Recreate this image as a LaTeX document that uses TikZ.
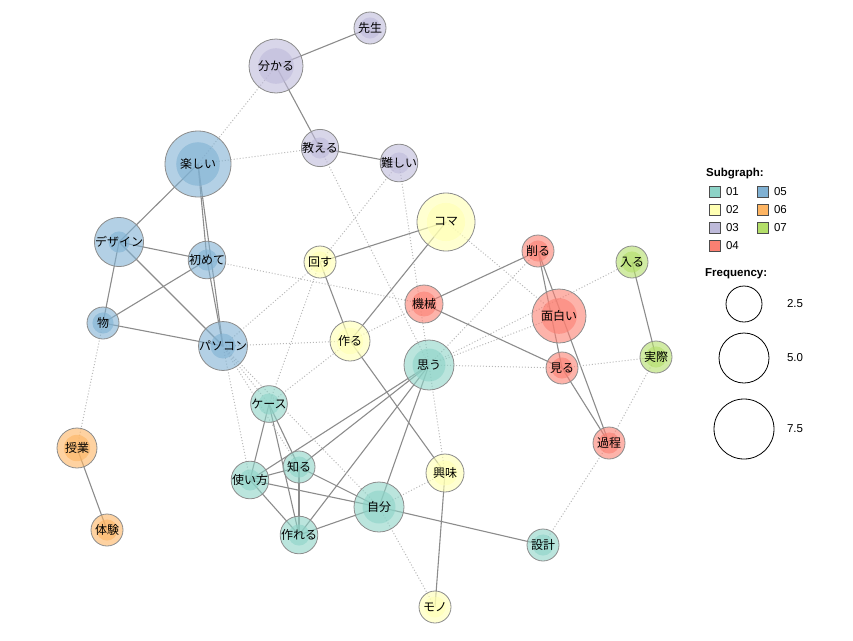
\documentclass[tikz,border=0pt]{standalone}
\usepackage{fontspec}
\setmainfont{Liberation Sans}
\newfontfamily\jafont{Noto Sans CJK JP}
\usetikzlibrary{backgrounds,positioning}
\definecolor{subA}{HTML}{8DD3C7}
\definecolor{subB}{HTML}{FFFFB3}
\definecolor{subC}{HTML}{BEBADA}
\definecolor{subD}{HTML}{FB8072}
\definecolor{subE}{HTML}{80B1D3}
\definecolor{subF}{HTML}{FDB462}
\definecolor{subG}{HTML}{B3DE69}

\begin{document}
\begin{tikzpicture}[x=1pt,y=-1pt,
    word/.style={circle,inner sep=0pt,draw=black!45,line width=0.8pt,
      fill opacity=0.6,text opacity=1,font=\jafont\fontsize{12}{14}\selectfont},
    cooc/.style={draw=black!45,line width=1.1pt},
    weak/.style={draw=black!28,line width=1pt,dotted},
    legbox/.style={draw=black!70,line width=0.6pt,minimum size=11pt,inner sep=0pt},
    legtext/.style={font=\fontsize{11.5}{13}\selectfont,inner sep=0pt},
    freqring/.style={circle,draw=black,line width=0.8pt,inner sep=0pt}]
    \useasboundingbox (0,0) rectangle (853,640);

    % words
    \foreach \n/\x/\y/\r/\c/\t in {
      sensei/370/28/16/subC/先生, wakaru/276/66/27/subC/分かる,
      oshieru/320/148/16/subC/教える, muzukashii/399/163/16/subC/難しい,
      tanoshii/198/164/33/subE/楽しい, koma/446/222/29/subB/コマ,
      kezuru/538/251/16/subD/削る, hairu/632/262/16/subG/入る,
      design/119/242/16/subE/デザイン, hajimete/207/260/16/subE/初めて,
      mawasu/320/262/16/subB/回す, kikai/424/304/19/subD/機械,
      omoshiroi/559/316/27/subD/面白い, butsu/103/323/16/subE/物,
      pc/223/346/19/subE/パソコン, tsukuru/350/341/20/subB/作る,
      omou/429/365/25/subA/思う, miru/562/368/16/subD/見る,
      jissai/656/357/16/subG/実際, case/269/404/16/subA/ケース,
      jugyou/77/448/20/subF/授業, katei/609/443/16/subD/過程,
      shiru/299/467/16/subA/知る, tsukaikata/250/480/16/subA/使い方,
      kyoumi/445/473/19/subB/興味, jibun/379/507/25/subA/自分,
      tsukureru/299/535/16/subA/作れる, sekkei/543/545/16/subA/設計,
      taiken/107/530/16/subF/体験, monokana/435/607/16/subB/モノ}
      \node[word,fill=\c,minimum size=2*\r pt,
        path picture={\fill[\c,fill opacity=0.6]
          (path picture bounding box.center) circle[radius=0.66*\r pt];}]
        (\n) at (\x,\y) {\t};

    \begin{scope}[on background layer]
      \foreach \a/\b in {sensei/wakaru, wakaru/oshieru, oshieru/muzukashii,
        tanoshii/design, tanoshii/pc, tanoshii/hajimete, hajimete/pc,
        design/hajimete, design/butsu, design/pc, hajimete/butsu, butsu/pc,
        mawasu/koma, mawasu/tsukuru, koma/tsukuru, kikai/kezuru, kikai/miru,
        kezuru/miru, kezuru/katei, miru/katei, hairu/jissai, tsukuru/kyoumi,
        omou/tsukaikata, omou/shiru, omou/tsukureru, omou/jibun,
        case/tsukaikata, case/shiru, case/tsukureru, tsukaikata/shiru,
        tsukaikata/jibun, tsukaikata/tsukureru, shiru/jibun, shiru/tsukureru,
        tsukureru/jibun, jibun/sekkei, kyoumi/monokana, jugyou/taiken}
        \draw[cooc] (\a.center) -- (\b.center);
      \foreach \a/\b in {wakaru/tanoshii, tanoshii/oshieru, oshieru/omou,
        muzukashii/mawasu, muzukashii/omou, koma/omoshiroi, hajimete/kikai,
        pc/tsukuru, pc/mawasu, pc/case, pc/shiru, pc/jibun, pc/tsukaikata,
        mawasu/case, tsukuru/case, tsukuru/kikai, omou/kezuru,
        omou/omoshiroi, omou/hairu, omou/miru, miru/jissai, jissai/katei,
        katei/sekkei, omou/kyoumi, jibun/kyoumi, jibun/monokana, butsu/jugyou}
        \draw[weak] (\a.center) -- (\b.center);
    \end{scope}

    % legend
    \node[legtext,font=\bfseries\fontsize{11.5}{13}\selectfont,anchor=west]
      (subtitle) at (706,174) {Subgraph:};
    \foreach \k/\c/\x/\y in {01/subA/715/192, 02/subB/715/210, 03/subC/715/228,
      04/subD/715/246, 05/subE/763/192, 06/subF/763/210, 07/subG/763/228} {
      \node[legbox,fill=\c] (legbox\k) at (\x,\y) {};
      \node[legtext,right=5pt of legbox\k] (legtext\k) {\k};
    }
    \node[legtext,font=\bfseries\fontsize{11.5}{13}\selectfont,anchor=west]
      (freqtitle) at (705,274) {Frequency:};
    \foreach \v/\y/\r in {2.5/304/18, 5.0/358/25, 7.5/429/30} {
      \node[freqring,minimum size=2*\r pt] (ring\v) at (744,\y) {};
      \node[legtext] (ringtext\v) at (795,\y) {\v};
    }
\end{tikzpicture}
\end{document}
